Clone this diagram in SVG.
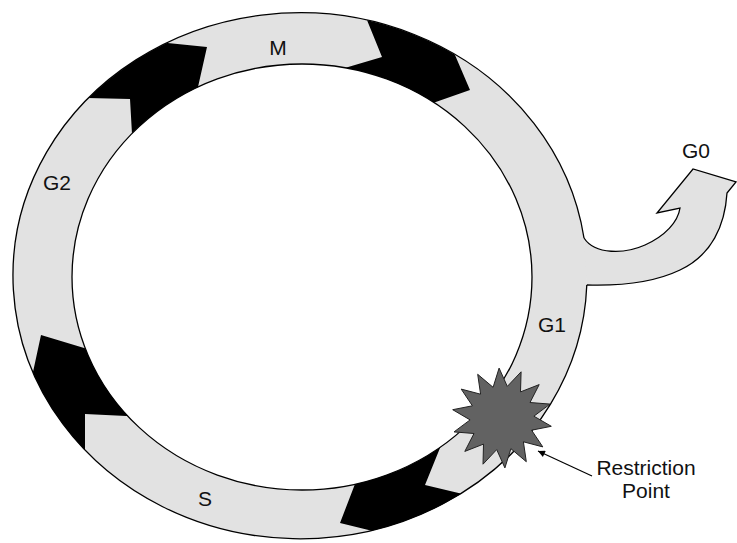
<svg xmlns="http://www.w3.org/2000/svg" width="737" height="543" viewBox="0 0 737 543">
<style>
.band{fill:#e2e2e2;fill-rule:evenodd;stroke:none}
.blk{fill:#000}
.edge{fill:none;stroke:#000;stroke-width:1.3}
.lbl{font-family:"Liberation Sans",Arial,Helvetica,sans-serif;font-size:21px;fill:#111;text-anchor:middle}
.conn{stroke:#000;stroke-width:1.2;fill:none}
</style>
<defs>
<clipPath id="ringClip">
<path clip-rule="evenodd" d="M13 276 A287 263 0 1 1 587 276 A287 263 0 1 1 13 276 Z M72 277 A230 213 0 1 0 532 277 A230 213 0 1 0 72 277 Z"/>
</clipPath>
<marker id="ah" viewBox="0 0 10 10" refX="10" refY="5" markerWidth="11" markerHeight="7" orient="auto" markerUnits="userSpaceOnUse">
<path d="M0 0 L10 5 L0 10 Z" fill="#000"/>
</marker>
</defs>
<rect width="737" height="543" fill="#fff"/>

<g id="cycle-ring">
<path class="band" d="M13 276 A287 263 0 1 1 587 276 A287 263 0 1 1 13 276 Z M72 277 A230 213 0 1 0 532 277 A230 213 0 1 0 72 277 Z"/>
<g clip-path="url(#ringClip)">
<polygon id="block-g2-m" class="blk" points="130,99 66,97.4 40,60 120,10 143,40.6 207,47 192.6,111 133,151.5"/>
<polygon id="block-m-g1" class="blk" points="382,57 358,-2 460,-10 446,34 470,90 410.8,110.8 322.8,74.6"/>
<polygon id="block-s-g2" class="blk" points="85,414 85,471.6 0,480 0,390 28.2,394.2 41,335 109.8,355.8 152.2,417.2"/>
<polygon id="block-g1-s" class="blk" points="425,485 485.8,499.4 500,560 400,560 399.2,537.4 340,523 364,460.6 449,425.8"/>
</g>
<path class="edge" d="M586.8 285 A287 263 0 1 1 584 238"/>
<ellipse class="edge" cx="302" cy="277" rx="230" ry="213"/>
</g>

<g id="g0-branch">
<path d="M584 238 C595 255 625 254 645 245 C665 236 678 222 680 208 L657 213 L693 169 L736 182 L727 193 C725 225 712 255 680 270 C655 282 620 286 586.8 285" fill="#e2e2e2" stroke="#000" stroke-width="1.3" stroke-linejoin="miter"/>
</g>

<g id="restriction-point">
<polygon points="521.1,371.8 520.5,391.9 539.2,384.6 530,402.5 550,404.1 533.9,416.2 551.3,426.3 531.6,430.2 542.8,446.9 523.4,441.8 526.3,461.7 510.9,448.7 504.9,467.9 496.7,449.6 483,464.2 483.5,444.1 464.8,451.4 474,433.5 454,431.9 470.1,419.9 452.7,409.7 472.4,405.8 461.2,389.1 480.6,394.2 477.7,374.3 493.1,387.3 499.1,368.1 507.3,386.4" fill="#626262" stroke="#222" stroke-width="1" stroke-linejoin="miter"/>
</g>

<g id="labels">
<text class="lbl" x="278" y="55">M</text>
<text class="lbl" x="57" y="190">G2</text>
<text class="lbl" x="696" y="158">G0</text>
<text class="lbl" x="552" y="332">G1</text>
<text class="lbl" x="205" y="506">S</text>
<text class="lbl" x="646" y="475">Restriction</text>
<text class="lbl" x="646" y="498">Point</text>
</g>

<g id="connectors">
<line class="conn" x1="592" y1="476" x2="538" y2="451" marker-end="url(#ah)"/>
</g>
</svg>
